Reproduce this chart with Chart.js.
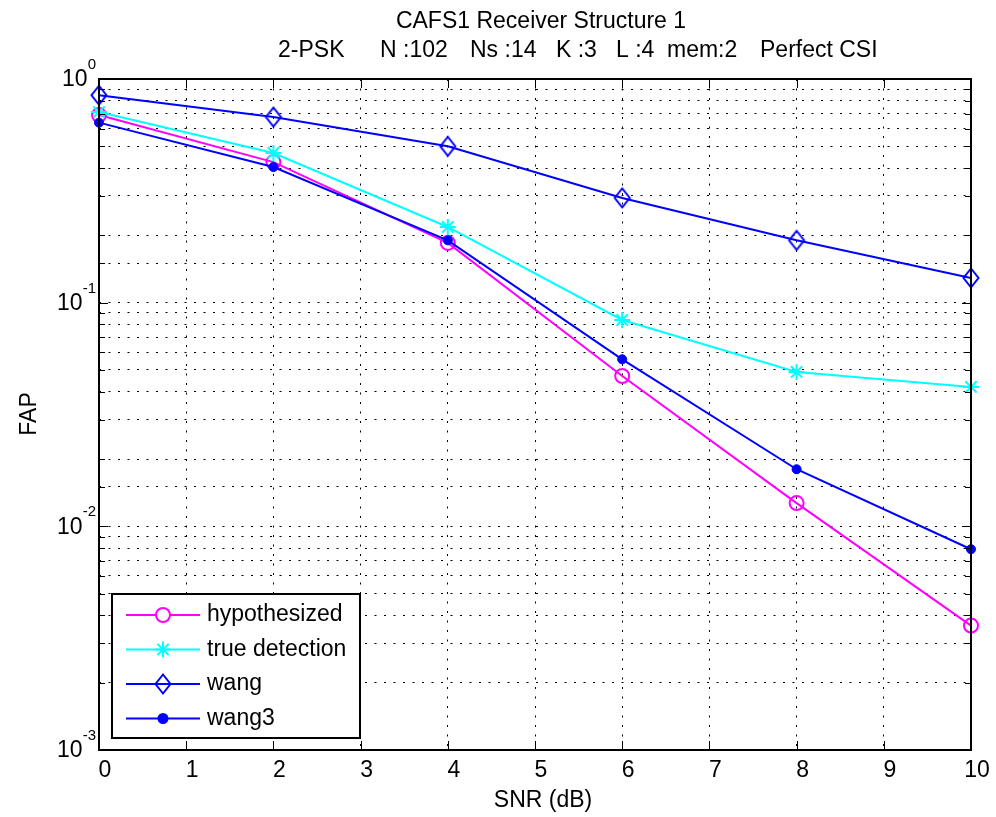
<!DOCTYPE html>
<html>
<head>
<meta charset="utf-8">
<script src="https://cdn.jsdelivr.net/npm/chart.js@4"></script>
<style>
  html, body { margin: 0; padding: 0; background: #fff; }
  #wrap { width: 996px; height: 817px; position: relative; }
</style>
</head>
<body>
<div id="wrap"><canvas id="chart"></canvas></div>
<script>
/* ========= DATA ========= */
const snr = [0, 2, 4, 6, 8, 10];
const hypothesized = [0.69, 0.425, 0.185, 0.047, 0.0127, 0.0036];
const trueDetection = [0.712, 0.467, 0.218, 0.0837, 0.049, 0.042];
const wang = [0.846, 0.676, 0.50, 0.294, 0.19, 0.129];
const wang3 = [0.638, 0.404, 0.19, 0.0558, 0.018, 0.0079];

const seriesNames = ["hypothesized", "true detection", "wang", "wang3"];
const xTicks = [0, 1, 2, 3, 4, 5, 6, 7, 8, 9, 10];
const yExponents = [0, -1, -2, -3];

const titleLine1 = "CAFS1 Receiver Structure 1";
const titleParts = ["2-PSK", "N :102", "Ns :14", "K :3", "L :4", "mem:2", "Perfect CSI"];
const xLabel = "SNR (dB)";
const yLabel = "FAP";

/* ========= LOOK ========= */
const FONT = '"Liberation Sans", Arial, sans-serif';
const FS = 23;
const titlePartX = [278, 380, 470, 556, 616, 667, 760];

// MATLAB style diamond (a bit taller than wide)
function makeDiamond(color) {
  const c = document.createElement("canvas");
  c.width = 20; c.height = 24;
  const g = c.getContext("2d");
  g.strokeStyle = color;
  g.lineWidth = 2;
  g.beginPath();
  g.moveTo(10, 2.5); g.lineTo(17.5, 12); g.lineTo(10, 21.5); g.lineTo(2.5, 12);
  g.closePath();
  g.stroke();
  return c;
}
const diamond = makeDiamond("#0000ff");

function pts(vals) {
  return vals.map((v, i) => ({ x: snr[i], y: v }));
}

const datasets = [
  { label: seriesNames[0], data: pts(hypothesized), borderColor: "#ff00ff", backgroundColor: "rgba(0,0,0,0)",
    pointStyle: "circle", pointRadius: 7, pointBorderWidth: 2, legendFill: "#fff", order: 4 },
  { label: seriesNames[1], data: pts(trueDetection), borderColor: "#00ffff", backgroundColor: "#00ffff",
    pointStyle: "star", pointRadius: 8, pointBorderWidth: 2, legendFill: "#00ffff", order: 3 },
  { label: seriesNames[2], data: pts(wang), borderColor: "#0000ff", backgroundColor: "#0000ff",
    pointStyle: diamond, pointRadius: 9, pointBorderWidth: 2, legendFill: "#0000ff", order: 2 },
  { label: seriesNames[3], data: pts(wang3), borderColor: "#0000ff", backgroundColor: "#0000ff",
    pointStyle: "circle", pointRadius: 4.5, pointBorderWidth: 1, legendFill: "#0000ff", order: 1 }
];
datasets.forEach(d => {
  d.borderWidth = 2;
  d.pointBackgroundColor = d.backgroundColor;
  d.pointBorderColor = d.borderColor;
  d.pointHoverRadius = d.pointRadius;
  d.tension = 0;
  d.clip = false;
});

/* ========= PLUGIN: frame, labels, legend ========= */
const matlabAxes = {
  id: "matlabAxes",
  beforeDraw(chart) {
    const ctx = chart.ctx;
    ctx.save();
    ctx.fillStyle = "#fff";
    ctx.fillRect(0, 0, chart.width, chart.height);
    ctx.restore();
  },
  afterDraw(chart) {
    const ctx = chart.ctx;
    const xs = chart.scales.x, ys = chart.scales.y;
    const { left, right, top, bottom } = chart.chartArea;

    ctx.save();
    // tick marks
    ctx.strokeStyle = "#000";
    ctx.lineWidth = 1;
    ctx.beginPath();
    xTicks.forEach(v => {
      const px = Math.round(xs.getPixelForValue(v)) + 0.5;
      ctx.moveTo(px, bottom); ctx.lineTo(px, bottom - 9);
      ctx.moveTo(px, top); ctx.lineTo(px, top + 9);
    });
    ys.ticks.forEach(t => {
      const lg = Math.log10(t.value);
      const major = Math.abs(lg - Math.round(lg)) < 1e-6;
      const len = major ? 9 : 6;
      const py = Math.round(ys.getPixelForValue(t.value)) + 0.5;
      ctx.moveTo(left, py); ctx.lineTo(left + len, py);
      ctx.moveTo(right, py); ctx.lineTo(right - len, py);
    });
    ctx.stroke();

    // axes box
    ctx.lineWidth = 2;
    ctx.strokeRect(left, top, right - left, bottom - top);

    // x tick labels
    ctx.fillStyle = "#000";
    ctx.font = FS + "px " + FONT;
    ctx.textAlign = "center";
    ctx.textBaseline = "middle";
    xTicks.forEach(v => {
      ctx.fillText(String(v), xs.getPixelForValue(v) + 6, 771);
    });

    // y tick labels 10^n
    yExponents.forEach(e => {
      const py = ys.getPixelForValue(Math.pow(10, e));
      const ex = String(e);
      ctx.font = "15px " + FONT;
      const ew = ctx.measureText(ex).width;
      ctx.textAlign = "left";
      ctx.fillText(ex, 96 - ew, py - 14);
      ctx.font = FS + "px " + FONT;
      ctx.textAlign = "right";
      ctx.fillText("10", 96 - ew, py + 1);
    });

    // axis titles
    ctx.font = FS + "px " + FONT;
    ctx.textAlign = "center";
    ctx.fillText(xLabel, 543, 801);
    ctx.save();
    ctx.translate(30, 414);
    ctx.rotate(-Math.PI / 2);
    ctx.fillText(yLabel, 0, 0);
    ctx.restore();

    // title
    ctx.fillText(titleLine1, 541, 22);
    ctx.textAlign = "left";
    titleParts.forEach((s, i) => ctx.fillText(s, titlePartX[i], 51));

    // legend
    const bx = 112, by = 594, bw = 248, bh = 144;
    ctx.fillStyle = "#fff";
    ctx.fillRect(bx, by, bw, bh);
    ctx.lineWidth = 2;
    ctx.strokeStyle = "#000";
    ctx.strokeRect(bx, by, bw, bh);
    const rowY = [615, 649.5, 684, 718.5];
    chart.data.datasets.forEach((d, i) => {
      const y = rowY[i];
      ctx.strokeStyle = d.borderColor;
      ctx.lineWidth = 2;
      ctx.beginPath();
      ctx.moveTo(126, y); ctx.lineTo(200, y);
      ctx.stroke();
      ctx.fillStyle = d.legendFill;
      Chart.helpers.drawPoint(ctx, {
        pointStyle: d.pointStyle, radius: d.pointRadius, rotation: 0, borderWidth: d.pointBorderWidth
      }, 163, y);
      ctx.fillStyle = "#000";
      ctx.font = FS + "px " + FONT;
      ctx.textAlign = "left";
      ctx.textBaseline = "middle";
      ctx.fillText(d.label, 207, y);
    });
    ctx.restore();
  }
};

/* ========= CHART ========= */
new Chart(document.getElementById("chart"), {
  type: "line",
  data: { datasets },
  options: {
    responsive: true,
    maintainAspectRatio: false,
    animation: false,
    events: [],
    layout: { padding: { left: 99, top: 79, right: 25, bottom: 67 } },
    plugins: { legend: { display: false }, tooltip: { enabled: false } },
    scales: {
      x: {
        type: "linear", min: 0, max: 10,
        ticks: { display: false, stepSize: 1 },
        grid: { color: "#000", lineWidth: 1, drawTicks: false },
        border: { display: false, dash: [2, 7.5] }
      },
      y: {
        type: "logarithmic", min: 0.001, max: 1,
        ticks: { display: false },
        grid: { color: "#000", lineWidth: 1, drawTicks: false },
        border: { display: false, dash: [2, 7.5] }
      }
    }
  },
  plugins: [matlabAxes]
});
</script>
</body>
</html>
